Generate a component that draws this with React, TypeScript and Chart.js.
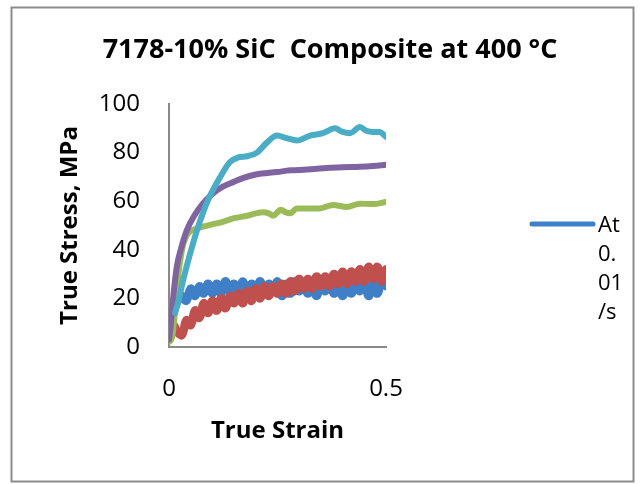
import React, { useEffect, useRef } from "react";
import { Chart, registerables } from "chart.js";

Chart.register(...registerables);

// ---- text ----
const chartTitle = "7178-10% SiC  Composite at 400 °C";
const xAxisTitle = "True Strain";
const yAxisTitle = "True Stress, MPa";
const legendLabel = "At 0.01 /s";
const legendLines = ["At", "0.", "01", "/s"];

// ---- axes ----
const xTickValues = [0, 0.5];
const xTickLabels = ["0", "0.5"];
const yTickValues = [0, 20, 40, 60, 80, 100];

// ---- noisy low-stress series (shared strain grid) ----
const noisyStrain = [
  0.004, 0.01, 0.02, 0.03, 0.04, 0.05, 0.06, 0.07, 0.08, 0.09,
  0.1, 0.11, 0.12, 0.13, 0.14, 0.15, 0.16, 0.17, 0.18, 0.19,
  0.2, 0.21, 0.22, 0.23, 0.24, 0.25, 0.26, 0.27, 0.28, 0.29,
  0.3, 0.31, 0.32, 0.33, 0.34, 0.35, 0.36, 0.37, 0.38, 0.39,
  0.4, 0.41, 0.42, 0.43, 0.44, 0.45, 0.46, 0.47, 0.48, 0.49,
  0.5,
];
const blueStress = [
  9, 14, 19, 21, 19, 24, 21, 25, 22, 26,
  22, 26, 22, 27, 23, 26, 22, 27, 22, 26,
  23, 27, 22, 26, 23, 27, 21, 26, 22, 27,
  23, 26, 22, 26, 21, 26, 23, 27, 22, 26,
  21, 26, 22, 26, 23, 27, 21, 26, 22, 27,
  25,
];
const redStress = [
  7, 9, 6, 5, 11, 9, 15, 12, 18, 14,
  19, 15, 20, 16, 21, 18, 22, 18, 23, 19,
  24, 20, 25, 21, 25, 22, 26, 22, 27, 23,
  28, 24, 28, 24, 29, 25, 29, 25, 30, 26,
  31, 26, 31, 27, 32, 27, 33, 28, 33, 27,
  32,
];

// ---- green series ----
const greenStrain = [
  0, 0.007, 0.014, 0.021, 0.03, 0.041, 0.06, 0.078, 0.1, 0.124,
  0.15, 0.18, 0.2, 0.217, 0.23, 0.24, 0.25, 0.258, 0.268, 0.279,
  0.295, 0.32, 0.345, 0.378, 0.41, 0.44, 0.47, 0.5,
];
const greenStress = [
  2, 4, 15, 29, 40, 46, 48.5, 49.5, 50.5, 51.5,
  53, 54, 55, 55.5, 55, 54, 55.5, 56.5, 55.5, 55,
  57, 57, 57, 58.4, 57.6, 59, 58.8, 59.7,
];

// ---- purple series ----
const purpleStrain = [
  0, 0.004, 0.01, 0.018, 0.027, 0.041, 0.058, 0.078, 0.1, 0.124,
  0.15, 0.17, 0.2, 0.249, 0.28, 0.318, 0.364, 0.4, 0.44, 0.47,
  0.5,
];
const purpleStress = [
  3, 9, 21, 33, 40, 48, 54, 59, 63, 66,
  68, 69.5, 71, 72, 72.7, 73, 73.7, 74, 74.2, 74.5,
  75,
];

// ---- cyan series ----
const cyanStrain = [
  0.014, 0.022, 0.032, 0.048, 0.07, 0.09, 0.115, 0.14, 0.16, 0.18,
  0.203, 0.225, 0.249, 0.27, 0.295, 0.325, 0.355, 0.382, 0.4, 0.417,
  0.44, 0.455, 0.47, 0.485, 0.5,
];
const cyanStress = [
  14, 19, 27, 38, 51, 60.5, 69, 76, 78, 78.5,
  80, 84, 87, 86, 85, 87, 88, 90, 88.5, 88,
  90.5, 89, 88.5, 88.5, 86.5,
];

const seriesColors = ["#3F7FC7", "#C0504D", "#9BBB59", "#8064A2", "#4BACC6"];
const seriesNames = [legendLabel, "Series 2", "Series 3", "Series 4", "Series 5"];

const FONT = "'Open Sans', 'Liberation Sans', sans-serif";

function pairs(xs: number[], ys: number[]) {
  return xs.map((x, i) => ({ x, y: ys[i] }));
}

// Frame, title and the (single-entry) wrapped legend
const decorPlugin = {
  id: "decor",
  beforeDraw(chart: any) {
    const { ctx, width, height } = chart;
    ctx.save();
    ctx.fillStyle = "#ffffff";
    ctx.fillRect(0, 0, width, height);
    ctx.strokeStyle = "#8c8c8c";
    ctx.lineWidth = 2;
    ctx.strokeRect(11.5, 7.5, 622, 474);
    ctx.restore();
  },
  afterDraw(chart: any) {
    const { ctx } = chart;
    ctx.save();
    ctx.fillStyle = "#000000";
    ctx.textAlign = "center";
    ctx.textBaseline = "alphabetic";
    ctx.font = `bold 27px ${FONT}`;
    ctx.fillText(chartTitle, 330, 58);

    // legend marker
    ctx.strokeStyle = seriesColors[0];
    ctx.lineWidth = 5;
    ctx.lineCap = "round";
    ctx.beginPath();
    ctx.moveTo(532, 224);
    ctx.lineTo(593, 224);
    ctx.stroke();

    ctx.font = `22px ${FONT}`;
    ctx.textAlign = "left";
    legendLines.forEach((line, i) => {
      ctx.fillText(line, 598, 232 + i * 29);
    });
    ctx.restore();
  },
};

export default function App() {
  const ref = useRef<HTMLCanvasElement | null>(null);

  useEffect(() => {
    if (!ref.current) return;
    const series = [
      pairs(noisyStrain, blueStress),
      pairs(noisyStrain, redStress),
      pairs(greenStrain, greenStress),
      pairs(purpleStrain, purpleStress),
      pairs(cyanStrain, cyanStress),
    ];
    const noisy = [true, true, false, false, false];
    const chart = new Chart(ref.current, {
      type: "line",
      data: {
        datasets: series.map((d, i) => ({
          label: seriesNames[i],
          data: d,
          borderColor: seriesColors[i],
          backgroundColor: seriesColors[i],
          borderWidth: noisy[i] ? 8.5 : 6,
          pointRadius: 0,
          fill: false,
          tension: noisy[i] ? 0.4 : 0,
          cubicInterpolationMode: noisy[i] ? "default" : "monotone",
          borderCapStyle: "round",
          borderJoinStyle: "round",
          order: 5 - i,
        })),
      },
      options: {
        animation: false,
        responsive: false,
        events: [],
        layout: { padding: { top: 104, right: 254, bottom: 0, left: 12 } },
        plugins: {
          legend: { display: false },
          title: { display: false },
          tooltip: { enabled: false },
        },
        scales: {
          x: {
            type: "linear",
            min: 0,
            max: 0.5,
            afterBuildTicks: (scale: any) => {
              scale.ticks = xTickValues.map((v) => ({ value: v }));
            },
            afterFit: (scale: any) => {
              scale.height = 137;
            },
            ticks: {
              color: "#000",
              font: { family: FONT, size: 24 },
              padding: 28,
              maxRotation: 0,
              callback: (v: any) => {
                const i = xTickValues.indexOf(Number(v));
                return i >= 0 ? xTickLabels[i] : "";
              },
            },
            grid: { display: false, drawTicks: false },
            border: { display: true, color: "#8a8a8a", width: 2 },
            title: {
              display: true,
              text: xAxisTitle,
              color: "#000",
              font: { family: FONT, size: 24, weight: "bold" },
              padding: { top: 0, bottom: 38 },
            },
          },
          y: {
            type: "linear",
            min: 0,
            max: 100,
            afterBuildTicks: (scale: any) => {
              scale.ticks = yTickValues.map((v) => ({ value: v }));
            },
            afterFit: (scale: any) => {
              scale.width = 157;
            },
            ticks: {
              color: "#000",
              font: { family: FONT, size: 24 },
              padding: 29,
            },
            grid: { display: false, drawTicks: false },
            border: { display: true, color: "#8a8a8a", width: 2 },
            title: {
              display: true,
              text: yAxisTitle,
              color: "#000",
              font: { family: FONT, size: 24, weight: "bold" },
              padding: { top: 44, bottom: 0 },
            },
          },
        },
      },
      plugins: [decorPlugin],
    } as any);
    return () => chart.destroy();
  }, []);

  return (
    <div style={{ position: "absolute", left: 0, top: 0, width: 640, height: 484 }}>
      <canvas ref={ref} width={640} height={484} style={{ display: "block" }} />
    </div>
  );
}
